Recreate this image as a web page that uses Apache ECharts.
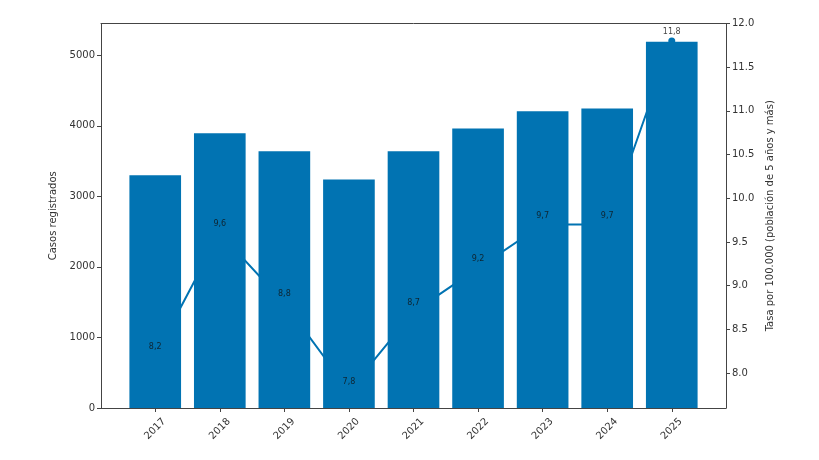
<!DOCTYPE html>
<html>
<head>
<meta charset="utf-8">
<script src="https://cdn.jsdelivr.net/npm/echarts@6/dist/echarts.min.js"></script>
<style>html,body{margin:0;padding:0;background:#fff}#c{width:819px;height:460px}</style>
</head>
<body>
<div id="c"></div>
<script>
const years = ['2017','2018','2019','2020','2021','2022','2023','2024','2025'];
const cases = [3300, 3895, 3640, 3240, 3640, 3960, 4205, 4245, 5190];
const rates = [8.2, 9.6, 8.8, 7.8, 8.7, 9.2, 9.7, 9.7, 11.8];
const leftTicks = [0, 1000, 2000, 3000, 4000, 5000];
const rightTicks = [8.0, 8.5, 9.0, 9.5, 10.0, 10.5, 11.0, 11.5, 12.0];

const idx = years.map((_, i) => i);
const n = years.length;
const xPad = 0.05 * (n - 1 + 0.8);
const xMin = -0.4 - xPad, xMax = n - 1 + 0.4 + xPad;
const rMin = Math.min(...rates), rMax = Math.max(...rates);
const rPad = 0.05 * (rMax - rMin);

const blue = '#0173b2';
const txt = '#333';
const axisCol = '#444';
const font = 'DejaVu Sans';

const chart = echarts.init(document.getElementById('c'), null, {renderer: 'canvas'});
chart.setOption({
  animation: false,
  grid: {left: 101, right: 93, top: 23.5, bottom: 52, containLabel: false},
  xAxis: [{
    type: 'value', min: xMin, max: xMax, position: 'bottom',
    splitLine: {show: false},
    axisLine: {show: true, onZero: false, lineStyle: {color: axisCol}},
    axisTick: {show: true, customValues: idx, length: 4, lineStyle: {color: axisCol}},
    axisLabel: {customValues: idx, formatter: v => years[Math.round(v)], rotate: 45, align: 'center', verticalAlign: 'middle', margin: 21, color: txt, fontSize: 10, fontFamily: font}
  }, {
    type: 'value', min: xMin, max: xMax, position: 'top',
    splitLine: {show: false},
    axisLine: {show: true, onZero: false, lineStyle: {color: axisCol}},
    axisTick: {show: false}, axisLabel: {show: false}
  }],
  yAxis: [{
    type: 'value', min: 0, max: Math.max(...cases) * 1.05, position: 'left',
    name: 'Casos registrados', nameLocation: 'middle', nameGap: 38,
    nameTextStyle: {color: txt, fontSize: 10, fontFamily: font},
    splitLine: {show: false},
    axisLine: {show: true, onZero: false, lineStyle: {color: axisCol}},
    axisTick: {show: true, customValues: leftTicks, length: 4, lineStyle: {color: axisCol}},
    axisLabel: {customValues: leftTicks, formatter: v => String(v), color: txt, fontSize: 10, fontFamily: font, margin: 6}
  }, {
    type: 'value', min: rMin - rPad, max: rMax + rPad, position: 'right',
    name: 'Tasa por 100.000 (población de 5 años y más)', nameLocation: 'middle', nameGap: 33,
    nameTextStyle: {color: txt, fontSize: 10, fontFamily: font},
    splitLine: {show: false},
    axisLine: {show: true, onZero: false, lineStyle: {color: axisCol}},
    axisTick: {show: true, customValues: rightTicks, length: 4, lineStyle: {color: axisCol}},
    axisLabel: {customValues: rightTicks, formatter: v => v.toFixed(1), color: txt, fontSize: 10, fontFamily: font, margin: 6}
  }],
  series: [{
    type: 'line', xAxisIndex: 0, yAxisIndex: 1, z: 1,
    data: idx.map(i => [i, rates[i]]),
    symbol: 'circle', symbolSize: 7, showSymbol: true,
    lineStyle: {color: blue, width: 2}, itemStyle: {color: blue}
  }, {
    type: 'bar', xAxisIndex: 0, yAxisIndex: 0, z: 3, barWidth: '80%',
    data: idx.map(i => [i, cases[i]]),
    itemStyle: {color: blue}
  }, {
    type: 'scatter', xAxisIndex: 0, yAxisIndex: 1, z: 5, symbolSize: 0, silent: true,
    data: idx.map(i => [i, rates[i]]),
    label: {show: true, position: 'top', distance: 5, formatter: p => p.value[1].toFixed(1).replace('.', ','), color: '#111', fontSize: 8, fontFamily: font}
  }]
});
</script>
</body>
</html>
